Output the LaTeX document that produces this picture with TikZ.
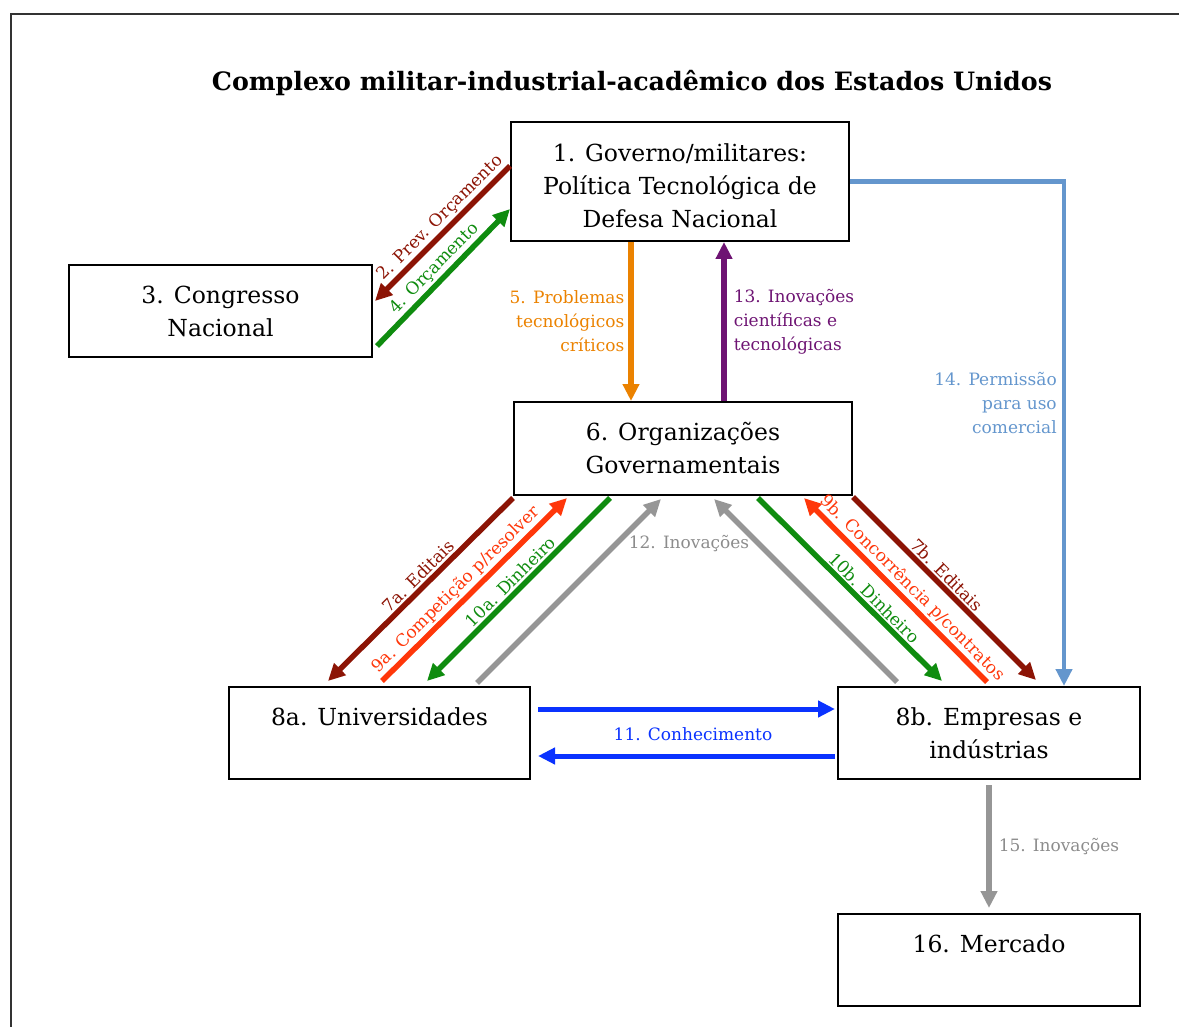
\documentclass[tikz,border=0pt]{standalone}
\usepackage{fontspec}
\setmainfont{DejaVu Serif}
\usetikzlibrary{arrows.meta, positioning}

\definecolor{cEdital}{RGB}{140,20,5}
\definecolor{cVerde}{RGB}{15,140,15}
\definecolor{cVermelho}{RGB}{255,55,10}
\definecolor{cLaranja}{RGB}{235,130,0}
\definecolor{cRoxo}{RGB}{110,20,115}
\definecolor{cAzul}{RGB}{10,50,255}
\definecolor{cAco}{RGB}{100,150,205}
\definecolor{cCinza}{RGB}{150,150,150}
\definecolor{cCinzaTxt}{RGB}{140,140,140}

\begin{document}
\begin{tikzpicture}[
    x=1pt, y=-1pt,
    >={Triangle[length=17pt,width=16pt]},
    box/.style={rectangle, draw=black, line width=2pt, minimum width=#1, minimum height=92pt, inner sep=0pt, align=center, font=\fontsize{23.5}{33}\selectfont},
    box/.default=302pt,
    lbl/.style={font=\fontsize{17}{24}\selectfont, inner sep=2pt},
    flow/.style={->, line width=5.5pt}
]
\useasboundingbox (0,0) rectangle (1179,1027);
\draw[line width=2.5pt, black!80] (11,1030) -- (11,14) -- (1182,14);

% titulo
\node[font=\bfseries\fontsize{25.3}{30}\selectfont] (titulo) at (632,83) {Complexo militar-industrial-acadêmico dos Estados Unidos};

% 1. caixas
\node[box=338pt, minimum height=119pt, text height=92pt] (gov) at (680,181.5) {1. Governo/militares:\\Política Tecnológica de\\Defesa Nacional};
\node[box=303pt] (cong) at (220.5,311) {3. Congresso\\Nacional};
\node[box=338pt, minimum height=93pt] (org) at (683,448.5) {6. Organizações\\Governamentais};
\node[box=301pt] (univ) at (379.5,733) {8a. Universidades\\\mbox{}};
\node[box] (emp) at (989,733) {8b. Empresas e\\indústrias};
\node[box, below=133pt of emp] (merc) {16. Mercado\\\mbox{}};

% 2. governo e congresso
\draw[flow, cEdital] ([yshift=-45pt]gov.north west) -- node[lbl, above, sloped, pos=0.45] (l2) {2. Prev. Orçamento} ([xshift=2pt,yshift=-37pt]cong.north east);
\draw[flow, cVerde] ([xshift=4pt,yshift=12pt]cong.south east) -- node[lbl, above, sloped] (l4) {4. Orçamento} ([yshift=33pt]gov.south west);

% 3. governo e organizacoes
\draw[flow, cLaranja] ([xshift=-49pt]gov.south) coordinate (a5) -- node[lbl, left=2pt, align=right] (l5) {5. Problemas\\tecnológicos\\críticos} (a5 |- org.north);
\draw[flow, cRoxo] ([xshift=41pt]org.north) coordinate (a13) -- node[lbl, right=5pt, align=left] (l13) {13. Inovações\\científicas e\\tecnológicas} (a13 |- gov.south);
\draw[flow, cAco, line width=4.5pt] (gov.east) -| node[lbl, left=3pt, align=right, pos=0.72] (l14) {14. Permissão\\para uso\\comercial} ([xshift=75pt]emp.north);

% 4. organizacoes e universidades
\draw[flow, cEdital] ([yshift=-2pt]org.south west) -- node[lbl, above, sloped, pos=0.47] (l7a) {7a. Editais} ([xshift=100pt,yshift=5pt]univ.north west);
\draw[flow, cVermelho] ([xshift=154pt,yshift=5pt]univ.north west) -- node[lbl, above, sloped, pos=0.45] (l9a) {9a. Competição p/resolver} ([xshift=54pt,yshift=-2pt]org.south west);
\draw[flow, cVerde] ([xshift=97pt,yshift=-2pt]org.south west) -- node[lbl, above, sloped] (l10a) {10a. Dinheiro} ([xshift=199pt,yshift=5pt]univ.north west);
\draw[flow, cCinza] ([xshift=249pt,yshift=3pt]univ.north west) -- ([xshift=148pt,yshift=-3pt]org.south west);
\node[lbl, text=cCinzaTxt] (l12) at (689,544) {12. Inovações};

% 5. organizacoes e empresas
\draw[flow, cCinza] ([xshift=60pt,yshift=4pt]emp.north west) -- ([xshift=201pt,yshift=-3pt]org.south west);
\draw[flow, cVerde] ([xshift=245pt,yshift=-2pt]org.south west) -- node[lbl, above, sloped, pos=0.59] (l10b) {10b. Dinheiro} ([xshift=105pt,yshift=5pt]emp.north west);
\draw[flow, cVermelho] ([xshift=150pt,yshift=4pt]emp.north west) -- node[lbl, above, sloped, pos=0.46] (l9b) {9b. Concorrência p/contratos} ([xshift=291pt,yshift=-2pt]org.south west);
\draw[flow, cEdital] ([yshift=-1pt]org.south east) -- node[lbl, above, sloped, pos=0.47] (l7b) {7b. Editais} ([xshift=199pt,yshift=6pt]emp.north west);

% 6. universidades, empresas e mercado
\draw[flow, cAzul, line width=5pt] ([xshift=7pt,yshift=24pt]univ.east) -- ([xshift=-2pt,yshift=24pt]emp.west);
\draw[flow, cAzul, line width=5pt] ([xshift=-2pt,yshift=-23pt]emp.west) -- ([xshift=7pt,yshift=-23pt]univ.east);
\node[lbl, text=cAzul] (l11) at (693,734) {11. Conhecimento};
\draw[flow, cCinza] ([yshift=-5pt]emp.south) -- node[lbl, right=5pt, text=cCinzaTxt] (l15) {15. Inovações} ([yshift=5pt]merc.north);

\end{tikzpicture}
\end{document}
